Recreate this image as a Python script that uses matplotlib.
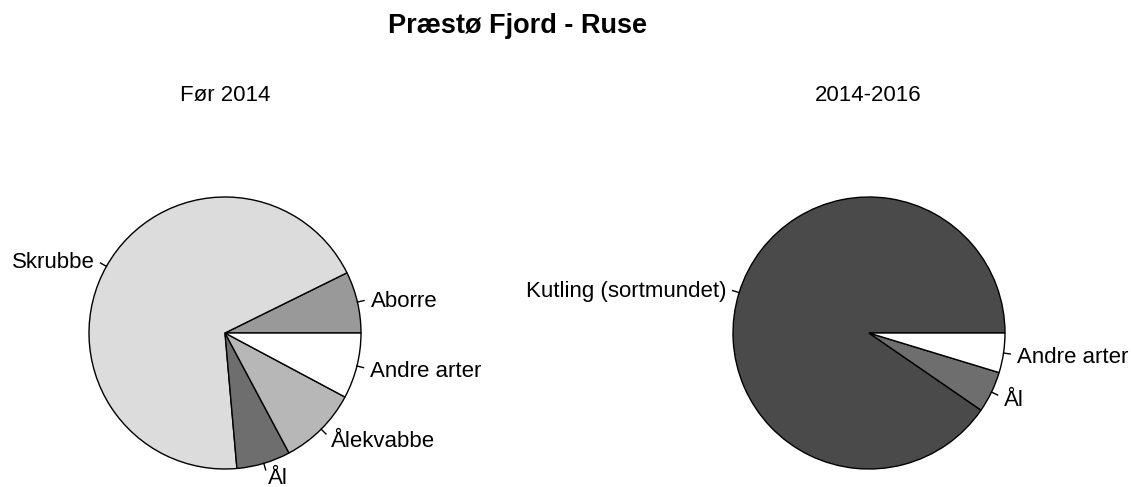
import numpy as np
import matplotlib
matplotlib.use("Agg")
import matplotlib.pyplot as plt
from matplotlib.transforms import offset_copy

plt.rcParams['font.family'] = ['Liberation Sans', 'DejaVu Sans']

title = "Præstø Fjord - Ruse"

left_title = "Før 2014"
left_labels = ["Aborre", "Skrubbe", "Ål", "Ålekvabbe", "Andre arter"]
left_values = [7.3, 69.1, 6.4, 9.4, 7.8]
left_colors = ["#999999", "#dcdcdc", "#6e6e6e", "#b7b7b7", "#ffffff"]

right_title = "2014-2016"
right_labels = ["Kutling (sortmundet)", "Ål", "Andre arter"]
right_values = [90.4, 4.9, 4.7]
right_colors = ["#4a4a4a", "#6e6e6e", "#ffffff"]

W, H = 1131, 487
fig = plt.figure(figsize=(W / 100, H / 100), dpi=100)
R = 136.0  # pixels per unit radius
XR, YR = 1.8, 1.2


def make_ax(cx, cy_top):
    cy = H - cy_top
    ax = fig.add_axes([(cx - XR * R) / W, (cy - YR * R) / H,
                       2 * XR * R / W, 2 * YR * R / H])
    return ax


def draw_pie(ax, values, labels, colors):
    wedges, _ = ax.pie(values, colors=colors, startangle=0, counterclock=True,
                       radius=1.0, center=(0, 0), normalize=True,
                       wedgeprops=dict(edgecolor='black', linewidth=1.0))
    ax.set_aspect('auto')
    ax.set_xlim(-XR, XR)
    ax.set_ylim(-YR, YR)
    ax.axis('off')
    tr = offset_copy(ax.transData, fig=fig, x=0, y=-8, units='dots')
    for w, lab in zip(wedges, labels):
        mid = np.deg2rad((w.theta1 + w.theta2) / 2)
        c, s = np.cos(mid), np.sin(mid)
        ax.plot([c, 1.05 * c], [s, 1.05 * s], color='black', lw=1.0,
                clip_on=False)
        ax.text(1.1 * c, 1.1 * s, lab, ha='left' if c > 0 else 'right',
                va='baseline', fontsize=16, clip_on=False, transform=tr)


axl = make_ax(225, 333)
draw_pie(axl, left_values, left_labels, left_colors)
axr = make_ax(869, 333)
draw_pie(axr, right_values, right_labels, right_colors)

fig.text(225 / W, 1 - 95 / H, left_title, ha='center', va='center', fontsize=16)
fig.text(868 / W, 1 - 95 / H, right_title, ha='center', va='center', fontsize=16)
fig.text(518 / W, 1 - 26 / H, title, ha='center', va='center', fontsize=19.5,
         fontweight='bold')

fig.savefig("out.png", dpi=100, facecolor='white')
